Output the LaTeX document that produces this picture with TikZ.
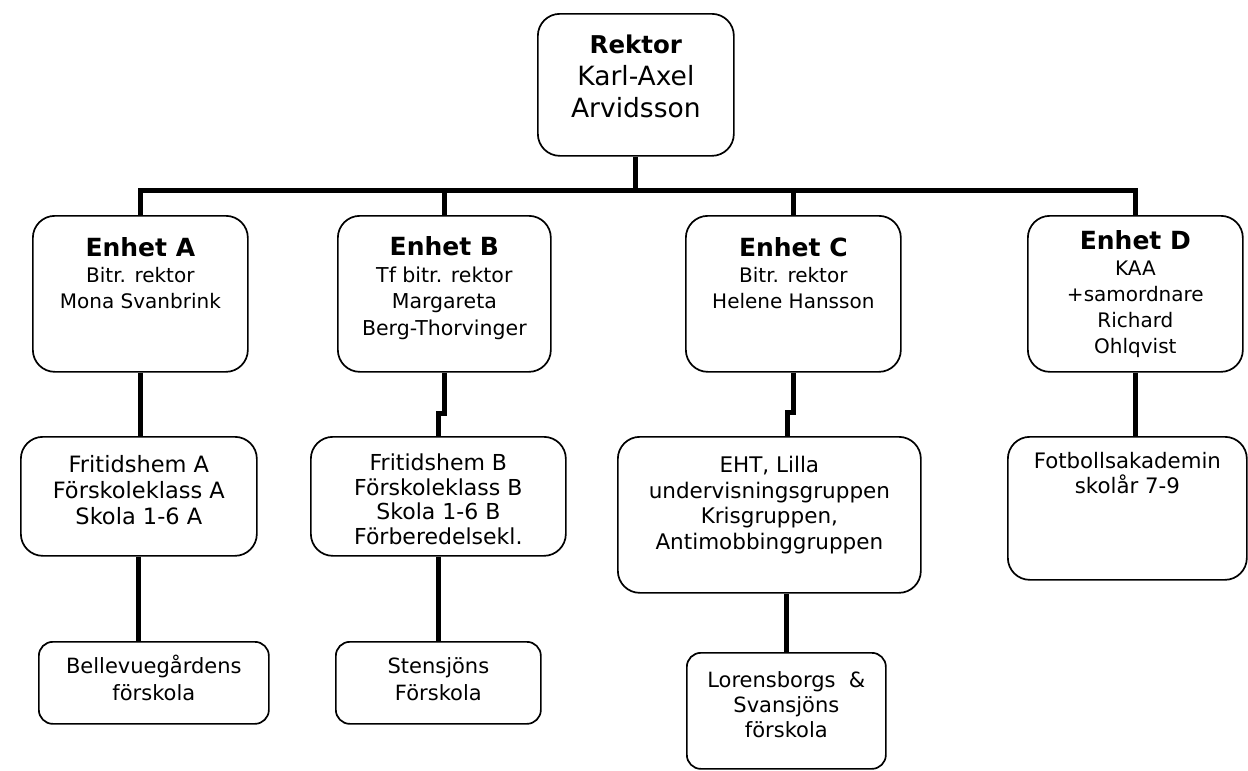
\documentclass[tikz,border=0pt]{standalone}
\usepackage{fontspec}
\setmainfont{DejaVu Sans}
\newcommand{\fsz}[2]{\fontsize{#1}{#2}\selectfont}
% width, height, first-baseline offset, font size, line skip, content
\newcommand{\boxtxt}[6]{\parbox[c][#2pt][t]{#1pt}{\centering\fsz{#4}{#5}\rule{0pt}{#3pt}#6\par}}
\begin{document}
\begin{tikzpicture}[x=1pt,y=-1pt,
  bx/.style={draw, line width=1.7pt, rounded corners=22pt, inner sep=0pt, anchor=north west},
  bxs/.style={bx, rounded corners=14pt},
  conn/.style={line width=5pt, line join=miter}]
\useasboundingbox[fill=white] (0,0) rectangle (1248,771);

% top
\node[bx] (rk) at (537,13) {\boxtxt{196}{142}{40}{26.5}{32}{{\fsz{24.5}{32}\bfseries Rektor}\\Karl-Axel\\Arvidsson}};

% units
\node[bx] (ea) at (32,215) {\boxtxt{215}{156}{41}{20}{26}{{\fsz{25}{26}\bfseries Enhet A}\\Bitr. rektor\\Mona Svanbrink}};
\node[bx] (eb) at (337,215) {\boxtxt{213}{156}{40}{20.5}{26.5}{{\fsz{25}{26}\bfseries Enhet B}\\Tf bitr. rektor\\Margareta\\Berg-Thorvinger}};
\node[bx] (ec) at (685,215) {\boxtxt{215}{156}{41}{20}{26}{{\fsz{25}{26}\bfseries Enhet C}\\Bitr. rektor\\Helene Hansson}};
\node[bx] (ed) at (1027,215) {\boxtxt{215}{156}{34}{20}{26}{{\fsz{25}{26}\bfseries Enhet D}\\KAA\\+samordnare\\Richard\\Ohlqvist}};

% second row
\node[bx] (fa) at (20,436) {\boxtxt{236}{119}{36}{22.5}{26}{Fritidshem A\\Förskoleklass A\\Skola 1-6 A}};
\node[bx] (fb) at (310,436) {\boxtxt{255}{119}{34}{22}{24.5}{Fritidshem B\\Förskoleklass B\\Skola 1-6 B\\Förberedelsekl.}};
\node[bx] (eht) at (617,436) {\boxtxt{303}{156}{36}{21.5}{25.5}{EHT, Lilla\\undervisningsgruppen\\Krisgruppen,\\Antimobbinggruppen}};
\node[bx] (fo) at (1007,436) {\boxtxt{239}{143}{32}{21.3}{25}{Fotbollsakademin\\skolår 7-9}};

% third row
\node[bxs] (bv) at (38,641) {\boxtxt{230}{82}{32}{21}{27}{Bellevuegårdens\\förskola}};
\node[bxs] (st) at (335,641) {\boxtxt{205}{82}{32}{21}{27}{Stensjöns\\Förskola}};
\node[bxs] (lo) at (686,652) {\boxtxt{199}{116}{35}{21}{25}{Lorensborgs\ \ \&\\Svansjöns\\förskola}};

% connectors
\coordinate (barL) at (139,190);
\draw[conn] (rk.south) -- (rk.south |- barL);
\draw[conn] (ea.north) -- (ea.north |- barL) -| (ed.north);
\draw[conn] (eb.north) -- (eb.north |- barL);
\draw[conn] (ec.north) -- (ec.north |- barL);

\draw[conn] (ea.south) -- (ea.south |- fa.north);
\draw[conn] (eb.south) -- ++(0,41) -| (fb.north);
\coordinate (cj) at (787,412);
\draw[conn] (ec.south) |- (cj) -- (cj |- eht.north);
\draw[conn] (ed.south) -- (ed.south |- fo.north);

\draw[conn] (fa.south) -- (fa.south |- bv.north);
\draw[conn] (fb.south) -- (st.north -| fb.south);
\draw[conn] (lo.north |- eht.south) -- (lo.north);
\end{tikzpicture}
\end{document}
